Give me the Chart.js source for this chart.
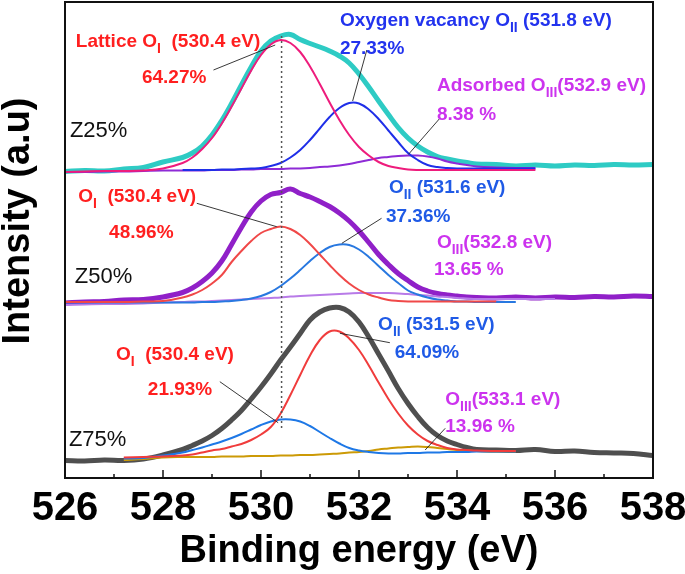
<!DOCTYPE html>
<html lang="en">
<head>
  <meta charset="UTF-8">
  <title>O 1s XPS - Z25 / Z50 / Z75</title>
  <script src="https://cdn.jsdelivr.net/npm/chart.js"></script>
  <style>
    html, body { margin: 0; padding: 0; background: #fff; }
    .chart-box { width: 685px; height: 574px; }
  </style>
</head>
<body>
<div class="chart-box"><canvas id="xpsChart"></canvas></div>

<script>
  // Binding energy grid (eV), shared by every curve
  const energy = [526.0, 526.4, 526.8, 527.2, 527.6, 528.0,
    528.4, 528.6, 528.8, 529.0, 529.2, 529.4, 529.6, 529.8, 530.0, 530.2,
    530.4, 530.6, 530.8, 531.0, 531.2, 531.4, 531.6, 531.8, 532.0, 532.2,
    532.4, 532.6, 532.8, 533.0, 533.2, 533.4, 533.6, 533.8, 534.0, 534.2, 534.4,
    534.8, 535.2, 535.6, 536.0, 536.4, 536.8, 537.2, 537.6, 538.0];

  // Z25 (top, offset spectrum)
  const z25Total = [306.5, 307.5, 307, 309, 310.5, 316,
    320.5, 325, 332, 343, 357.5, 374.5, 393, 411, 427, 437,
    442, 443.5, 438.5, 434.5, 431, 427, 422, 415, 404, 391,
    377, 363.5, 350.5, 340, 332, 326, 321.5, 319, 317, 315.5, 314,
    313.5, 312, 313, 312, 313, 312.5, 313.5, 313, 313.5];
  const z25Lattice = [306, 306.5, 307, 307, 307.5, 309.5,
    315, 320.5, 329, 340, 354.5, 371.5, 389.5, 407.5, 423, 433.5,
    438, 435, 426, 411.5, 394, 375.5, 358, 343, 331, 322.5,
    316, 312, 310, 308.5, 308, 308, 308, 308, 308, 308, 308,
    308, 308, 308, null, null, null, null, null, null];
  const z25Vacancy = [null, null, null, null, null, null,
    308, 308, 308, 308, 308.5, 308.5, 309, 309.5, 310, 312,
    315, 320.5, 328, 338, 349.5, 361, 370, 375, 374.5, 368.5,
    359, 347.5, 336, 325, 318, 313, 311, 310, 309.5, 309.5, 309.5,
    309.5, 309.5, 309.5, null, null, null, null, null, null];
  const z25Adsorbed = [306, 306, 306.5, 306.5, 307, 307.5,
    307.5, 307.5, 307.5, 308, 308, 308, 308.5, 308.5, 309, 309,
    309, 309.5, 309.5, 310, 311, 311.5, 312.5, 314, 316, 318,
    320, 321, 322, 322.5, 322.5, 321.5, 319.5, 316.5, 314.5, 313, 311.5,
    310.5, 310, 310, null, null, null, null, null, null];

  // Z50 (middle)
  const z50Total = [175, 176, 176.5, 178, 178.5, 181,
    185.5, 190, 196.5, 205, 217, 233.5, 250.5, 266, 277, 283.5,
    285.5, 289, 284.5, 281, 276.5, 271.5, 265, 257, 247, 235.5,
    223.5, 213.5, 204.5, 197.5, 191, 187, 184.5, 183, 182, 181, 180.5,
    180, 181, 180, 181, 180.5, 181.5, 181, 182, 181.5];
  const z50Lattice = [176, 176, 176, 176, 176.5, 177,
    180.5, 183.5, 188, 194.5, 203, 216, 227, 237, 245, 249,
    251.5, 249, 243, 234, 223.5, 213, 203, 194.5, 188, 183.5,
    180.5, 178, 177, 176.5, 176.5, 176.5, 176.5, 176.5, 176.5, 176.5, 176.5,
    176.5, null, null, null, null, null, null, null, null];
  const z50Vacancy = [175.5, 175.5, 175.5, 175.5, 175.5, 175.5,
    175.5, 175.5, 176, 176, 176.5, 177, 178, 179.5, 182, 186,
    192, 199.5, 208, 217, 225, 231, 233.5, 233, 228.5, 221,
    212, 203, 195, 187.5, 183.5, 180.5, 178.5, 177.5, 176.5, 176.5, 176,
    176, 176, null, null, null, null, null, null, null];
  const z50Adsorbed = [173, 173.5, 174, 174, 174.5, 175.5,
    176, 176.5, 176.5, 177, 177.5, 178, 178.5, 179, 179.5, 180,
    180.5, 181.5, 182, 182.5, 183, 183.5, 184, 184.5, 185, 185,
    185, 185, 184.5, 184, 183, 182.5, 181.5, 181, 180, 179.5, 179,
    179, 179, 179, 179, null, null, null, null, null];

  // Z75 (bottom)
  const z75Total = [17.5, 17, 18, 17.5, 19, 23,
    28.5, 32.5, 37, 42.5, 49.5, 58, 67.5, 79, 91, 104,
    118, 131, 144.5, 158, 166, 170, 170.5, 166, 156, 141,
    124, 107, 89.5, 74.5, 61.5, 50.5, 42.5, 37, 33.5, 30.5, 28.5,
    28, 27.5, 28.5, 26.5, 27, 25.5, 25, 24.5, 22.5];
  const z75Vacancy = [null, null, null, 20.5, 21, 21.5,
    22.5, 23.5, 25.5, 27.5, 29, 31.5, 34, 38, 43.5, 51,
    64.5, 83, 103, 122.5, 138, 146.5, 146.5, 139.5, 128, 112.5,
    95.5, 79, 64.5, 52.5, 43.5, 37, 33, 30, 28.5, 28, 27.5,
    27, 27, null, null, null, null, null, null, null];
  const z75Lattice = [null, null, null, 19.5, 20, 22.5,
    25.5, 28, 30.5, 33.5, 36.5, 40, 44, 48.5, 53, 56.5,
    58.5, 58.5, 56.5, 52, 46, 40, 34.5, 30, 27.5, 26,
    25, 24.5, 24.5, 25, 25, 25.5, 25.5, 26, 26, 26, 26.5,
    26.5, 26.5, null, null, null, null, null, null, null];
  const z75Adsorbed = [null, null, null, 18, 19, 20.5,
    21, 21, 21, 21, 21.5, 21.5, 21.5, 22, 22, 22,
    22.5, 22.5, 23, 23, 23.5, 24, 24.5, 25.5, 26, 27,
    28.5, 29.5, 30.5, 31, 31.5, 31, 30, 29, 28, 27.5, 27,
    26.5, 26.5, null, null, null, null, null, null, null];

  // Dotted reference at the lattice oxygen position
  const latticeEnergy = [530.42, 530.42];
  const latticeSpan = [442, 48];

  const xTicks = [526, 528, 530, 532, 534, 536, 538];

  function toPoints(xs, ys) {
    const pts = [];
    xs.forEach((x, i) => { if (ys[i] !== null) pts.push({ x: x, y: ys[i] }); });
    return pts;
  }

  function curve(label, ys, color, width, order) {
    return {
      label: label,
      data: toPoints(energy, ys),
      borderColor: color,
      borderWidth: width,
      pointRadius: 0,
      fill: false,
      tension: 0.4,
      order: order
    };
  }

  const RED = '#ff1f1f', BLUE1 = '#2233ee', BLUE2 = '#1f5ae6', MAG = '#cc33ee';
  const FONT = '"Liberation Sans", Arial, sans-serif';

  // Peak annotations: anchor in data units (left edge, baseline)
  const notes = [
    { t: 'Lattice O_{I}  (530.4 eV)', x: 526.22, y: 431, c: RED },
    { t: '64.27%', x: 527.57, y: 395, c: RED },
    { t: 'Oxygen vacancy O_{II} (531.8 eV)', x: 531.61, y: 452, c: BLUE1 },
    { t: '27.33%', x: 531.61, y: 424, c: BLUE1 },
    { t: 'Adsorbed O_{III}(532.9 eV)', x: 533.59, y: 387, c: MAG },
    { t: '8.38 %', x: 533.59, y: 358, c: MAG },
    { t: 'Z25%', x: 526.10, y: 341, c: '#111', plain: true },
    { t: 'O_{I}  (530.4 eV)', x: 526.27, y: 276, c: RED },
    { t: '48.96%', x: 526.90, y: 240, c: RED },
    { t: 'O_{II} (531.6 eV)', x: 532.61, y: 285, c: BLUE2 },
    { t: '37.36%', x: 532.55, y: 256.5, c: BLUE2 },
    { t: 'O_{III}(532.8 eV)', x: 533.59, y: 230, c: MAG },
    { t: '13.65 %', x: 533.53, y: 203, c: MAG },
    { t: 'Z50%', x: 526.20, y: 195, c: '#111', plain: true },
    { t: 'O_{II} (531.5 eV)', x: 532.39, y: 148, c: BLUE2 },
    { t: '64.09%', x: 532.73, y: 120, c: BLUE2 },
    { t: 'O_{I}  (530.4 eV)', x: 527.04, y: 118, c: RED },
    { t: '21.93%', x: 527.69, y: 83, c: RED },
    { t: 'O_{III}(533.1 eV)', x: 533.76, y: 73, c: MAG },
    { t: '13.96 %', x: 533.76, y: 46.5, c: MAG },
    { t: 'Z75%', x: 526.08, y: 32, c: '#111', plain: true }
  ];

  // Leader lines from labels to peaks (data units)
  const leaders = [
    [529.03, 408, 530.29, 433],
    [532.16, 428, 531.87, 377],
    [533.65, 359.7, 533.01, 323.7],
    [528.69, 274.7, 530.32, 251.3],
    [532.46, 259.7, 531.65, 234.7],
    [532.63, 135.3, 531.61, 144.7],
    [529.16, 96.3, 530.35, 55.3],
    [533.76, 49.7, 533.35, 28]
  ];

  function drawRich(ctx, str, x, y, size, bold) {
    const parts = str.split(/(_\{[^}]*\})/);
    let cx = x;
    parts.forEach(p => {
      if (!p) return;
      const sub = p.startsWith('_{');
      const t = sub ? p.slice(2, -1) : p;
      const fs = sub ? Math.round(size * 0.74) : size;
      ctx.font = (bold ? 'bold ' : '') + fs + 'px ' + FONT;
      ctx.fillText(t, cx, y + (sub ? size * 0.3 : 0));
      cx += ctx.measureText(t).width;
    });
  }

  const decorations = {
    id: 'decorations',
    afterDatasetsDraw(chart) {
      const ctx = chart.ctx;
      const xs = chart.scales.x, ys = chart.scales.y;
      const a = chart.chartArea;
      ctx.save();

      // frame
      ctx.strokeStyle = '#111';
      ctx.lineWidth = 2;
      ctx.strokeRect(a.left, a.top, a.right - a.left, a.bottom - a.top);

      // inward ticks on the bottom axis
      ctx.lineWidth = 1.5;
      for (let v = xs.min + 1; v < xs.max; v++) {
        const px = xs.getPixelForValue(v);
        const len = (v % 2 === 0) ? 8 : 4;
        ctx.beginPath();
        ctx.moveTo(px, a.bottom);
        ctx.lineTo(px, a.bottom - len);
        ctx.stroke();
      }

      // leader lines
      ctx.strokeStyle = '#222';
      ctx.lineWidth = 0.9;
      leaders.forEach(l => {
        ctx.beginPath();
        ctx.moveTo(xs.getPixelForValue(l[0]), ys.getPixelForValue(l[1]));
        ctx.lineTo(xs.getPixelForValue(l[2]), ys.getPixelForValue(l[3]));
        ctx.stroke();
      });

      // labels
      ctx.textBaseline = 'alphabetic';
      ctx.textAlign = 'left';
      notes.forEach(n => {
        ctx.fillStyle = n.c;
        drawRich(ctx, n.t, xs.getPixelForValue(n.x), ys.getPixelForValue(n.y),
          n.plain ? 22 : 19, !n.plain);
      });

      // y axis title
      ctx.fillStyle = '#000';
      ctx.font = 'bold 38px ' + FONT;
      ctx.textAlign = 'center';
      ctx.translate(28.5, 221);
      ctx.rotate(-Math.PI / 2);
      ctx.fillText('Intensity (a.u)', 0, 0);
      ctx.restore();
    }
  };

  window.onload = function() {
    const ctx = document.getElementById('xpsChart').getContext('2d');

    new Chart(ctx, {
      type: 'line',
      data: {
        datasets: [
          {
            label: 'O_I position',
            data: toPoints(latticeEnergy, latticeSpan),
            borderColor: '#555',
            borderWidth: 1.5,
            borderDash: [2, 3],
            pointRadius: 0,
            fill: false,
            order: 1
          },
          curve('Z25 total', z25Total, '#2ecbc4', 5, 3),
          curve('Z25 lattice', z25Lattice, '#ee1c7c', 2, 2),
          curve('Z25 vacancy', z25Vacancy, '#1f2fe8', 2, 2),
          curve('Z25 adsorbed', z25Adsorbed, '#8e2bd6', 2, 2),
          curve('Z50 total', z50Total, '#9020c8', 5, 3),
          curve('Z50 lattice', z50Lattice, '#f04848', 2, 2),
          curve('Z50 vacancy', z50Vacancy, '#2878e0', 2, 2),
          curve('Z50 adsorbed', z50Adsorbed, '#b87be8', 2, 2),
          curve('Z75 total', z75Total, '#4f4f4f', 5, 3),
          curve('Z75 vacancy', z75Vacancy, '#f03c3c', 2, 2),
          curve('Z75 lattice', z75Lattice, '#1e78e6', 2, 2),
          curve('Z75 adsorbed', z75Adsorbed, '#cc9a06', 2, 2)
        ]
      },
      options: {
        responsive: true,
        maintainAspectRatio: false,
        animation: false,
        layout: { padding: { left: 65, right: 32, top: 2, bottom: 0 } },
        plugins: {
          legend: { display: false },
          tooltip: { enabled: false }
        },
        scales: {
          x: {
            type: 'linear',
            min: 526,
            max: 538,
            afterFit(scale) {
              // fixed axis band; edge labels may overhang the frame
              scale.height = 96;
              scale.paddingLeft = 0;
              scale.paddingRight = 0;
            },
            afterBuildTicks(scale) { scale.ticks = xTicks.map(v => ({ value: v })); },
            grid: { display: false, drawTicks: false },
            border: { display: false },
            ticks: {
              color: '#000',
              padding: 7,
              maxRotation: 0,
              autoSkip: false,
              font: { family: FONT, size: 40, weight: 'bold' }
            },
            title: {
              display: true,
              text: 'Binding energy (eV)',
              color: '#000',
              padding: { top: 0, bottom: 0 },
              font: { family: FONT, size: 38, weight: 'bold' }
            }
          },
          y: {
            display: false,
            min: 0,
            max: 476
          }
        }
      },
      plugins: [decorations]
    });
  };
</script>
</body>
</html>
